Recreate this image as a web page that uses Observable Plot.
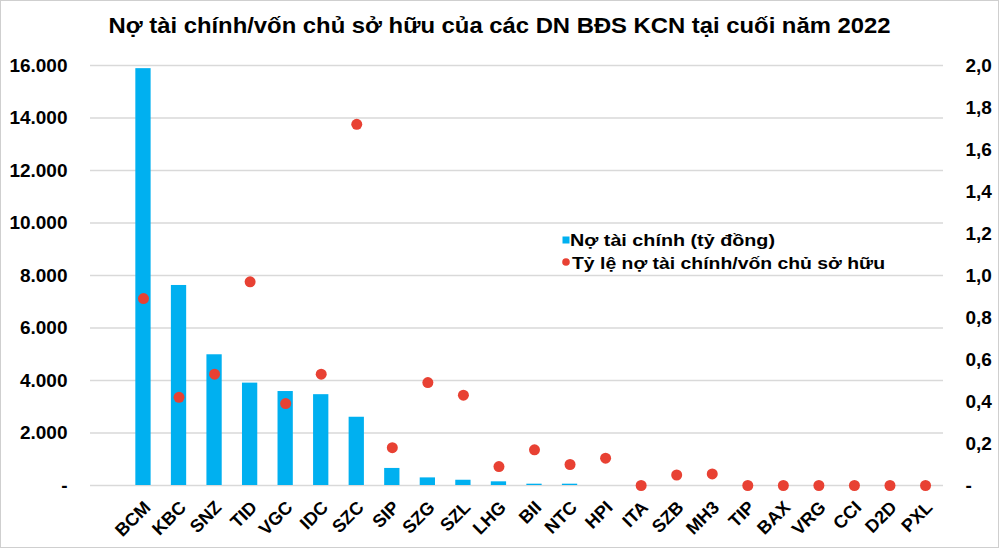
<!DOCTYPE html>
<html>
<head>
<meta charset="utf-8">
<script src="https://cdn.jsdelivr.net/npm/d3@7"></script>
<script src="https://cdn.jsdelivr.net/npm/@observablehq/plot@0.6"></script>
<style>
  html, body { margin: 0; padding: 0; background: #fff; }
  #wrap { position: relative; width: 1000px; height: 549px; overflow: hidden; }
  #border { position: absolute; left: 0; top: 0; width: 997px; height: 546px; border: 1px solid #cfcfcf; pointer-events: none; }
  svg text { font-family: "Liberation Sans", Arial, sans-serif; font-weight: bold; }
</style>
</head>
<body>
<div id="wrap"><div id="border"></div></div>
<script>
const title = "Nợ tài chính/vốn chủ sở hữu của các DN BĐS KCN tại cuối năm 2022";
const categories = ["BCM","KBC","SNZ","TID","VGC","IDC","SZC","SIP","SZG","SZL","LHG","BII","NTC","HPI","ITA","SZB","MH3","TIP","BAX","VRG","CCI","D2D","PXL"];
const debt = [15880, 7620, 4980, 3900, 3580, 3460, 2600, 650, 290, 200, 140, 50, 50, 0, 0, 0, 0, 0, 0, 0, 0, 0, 0];
const ratio = [0.89, 0.42, 0.53, 0.97, 0.39, 0.53, 1.72, 0.18, 0.49, 0.43, 0.09, 0.17, 0.10, 0.13, 0, 0.05, 0.055, 0, 0, 0, 0, 0, 0];
const leftTicks = [0, 2000, 4000, 6000, 8000, 10000, 12000, 14000, 16000];
const rightTicks = [0, 0.2, 0.4, 0.6, 0.8, 1.0, 1.2, 1.4, 1.6, 1.8, 2.0];
const legendLabels = ["Nợ tài chính (tỷ đồng)", "Tỷ lệ nợ tài chính/vốn chủ sở hữu"];

const barColor = "#00B0F0";
const dotColor = "#E84133";
const ratioToY = 16000 / 2.0;

const rows = categories.map((c, i) => ({cat: c, debt: debt[i], ratio: ratio[i]}));

const fmtLeft = d => d === 0 ? "-" : d3.format(",")(d).replace(/,/g, ".");
const fmtRight = d => Math.abs(d) < 1e-9 ? "-" : (d / ratioToY).toFixed(1).replace(".", ",");

const chart = Plot.plot({
  width: 1000,
  height: 549,
  marginLeft: 90,
  marginRight: 57,
  marginTop: 65,
  marginBottom: 64,
  style: {fontFamily: "Liberation Sans, Arial, sans-serif", color: "#000", background: "transparent"},
  x: {type: "band", domain: categories, range: [125.2, 942.8], paddingInner: 0.57, paddingOuter: 0.285, round: false, axis: null},
  y: {domain: [0, 16000], axis: null},
  marks: [
    Plot.gridY(leftTicks, {stroke: "#d9d9d9", strokeOpacity: 1, strokeWidth: 1.3}),
    Plot.barY(rows, {x: "cat", y: "debt", fill: barColor}),
    Plot.dot(rows, {x: "cat", y: d => d.ratio * ratioToY, r: 5.5, fill: dotColor, stroke: "none"}),
    Plot.axisY(leftTicks, {anchor: "left", tickSize: 0, tickPadding: 23, tickFormat: fmtLeft, fontSize: 19, fontWeight: "bold", fill: "#000", label: null}),
    Plot.axisY(rightTicks.map(t => t * ratioToY), {anchor: "right", tickSize: 0, tickPadding: 22, tickFormat: fmtRight, fontSize: 19, fontWeight: "bold", fill: "#000", label: null}),
    Plot.text(categories, {x: d => d, frameAnchor: "bottom", rotate: -45, textAnchor: "end", lineAnchor: "middle", dx: 4, dy: 19, fontSize: 18, fontWeight: "bold", fill: "#000"}),
    Plot.text([title], {frameAnchor: "top-left", textAnchor: "start", lineAnchor: "bottom", dx: 108 - 90, dy: 32 - 65, fontSize: 22, fontWeight: "bold", fill: "#000"})
  ]
});

document.getElementById("wrap").prepend(chart);

// title width adjustment
const svg = d3.select(chart);
svg.selectAll("text").filter(function() { return this.textContent === title; })
  .attr("textLength", 782).attr("lengthAdjust", "spacingAndGlyphs");

// legend (decoration)
const lg = svg.append("g").attr("font-family", "Liberation Sans, Arial, sans-serif").attr("font-weight", "bold").attr("font-size", 17).attr("text-anchor", "start");
lg.append("rect").attr("x", 562.5).attr("y", 236.5).attr("width", 7).attr("height", 7).attr("fill", barColor);
lg.append("text").attr("x", 570).attr("y", 245.5).attr("text-anchor", "start").text(legendLabels[0]).attr("textLength", 205).attr("lengthAdjust", "spacingAndGlyphs");
lg.append("circle").attr("cx", 566).attr("cy", 262).attr("r", 3.8).attr("fill", dotColor);
lg.append("text").attr("x", 572).attr("y", 269).attr("text-anchor", "start").text(legendLabels[1]).attr("textLength", 313).attr("lengthAdjust", "spacingAndGlyphs");
</script>
</body>
</html>
